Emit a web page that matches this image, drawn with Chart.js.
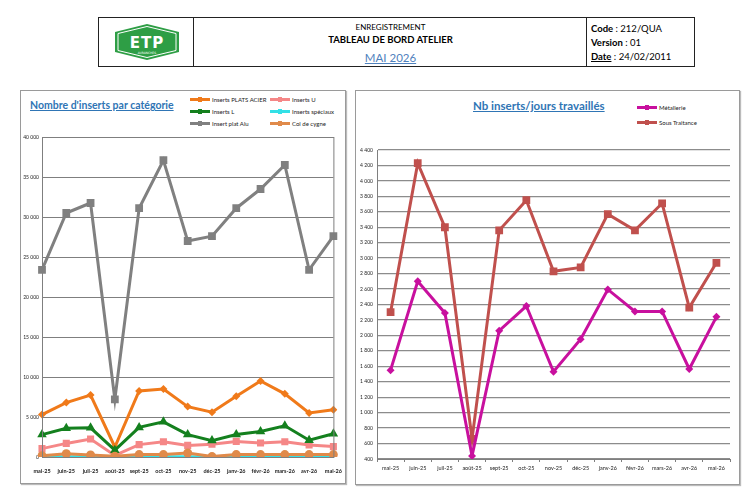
<!DOCTYPE html>
<html lang="fr">
<head>
<meta charset="utf-8">
<script src="https://cdn.jsdelivr.net/npm/chart.js@4.4.1/dist/chart.umd.min.js"></script>
<style>
  body { margin: 0; width: 750px; height: 504px; background: #fff; font-family: Lato, 'Liberation Sans', sans-serif; position: relative; overflow: hidden; }
  .abs { position: absolute; }
  .hdr { left: 98px; top: 17px; width: 597px; height: 50px; border: 1px solid #222; box-sizing: border-box; }
  .cell { position: absolute; top: 0; bottom: 0; border-left: 1px solid #222; }
  .panel { border: 1px solid #9a9a9a; box-shadow: 1px 1px 1px #bbb; box-sizing: border-box; }
  .title { color: #2f75b5; font-weight: bold; text-decoration: underline; white-space: nowrap; }
  .leg { font-size: 6px; color: #222; white-space: nowrap; display: flex; align-items: center; }
  .leg i { display: inline-block; width: 20px; height: 3px; margin-right: 2px; position: relative; }
  .leg i b { position: absolute; left: 8px; top: -1px; width: 4px; height: 5px; }
</style>
</head>
<body>

<!-- header -->
<div class="abs hdr">
  <svg class="abs" style="left:14px;top:5px" width="68" height="38" viewBox="0 0 68 38">
    <polygon points="2,9 34,1 66,9 66,29 34,37 2,29" fill="#2e9e45"/>
    <polygon points="5,10.5 34,3.5 63,10.5 63,27.5 34,34.5 5,27.5" fill="none" stroke="#fff" stroke-width="1"/>
    <text x="34" y="25" text-anchor="middle" fill="#fff" font-family="'DejaVu Sans'" font-weight="bold" font-size="15" letter-spacing="1">ETP</text>
    <text x="34" y="31" text-anchor="middle" fill="#fff" font-family="'DejaVu Sans'" font-size="3">AVRANCHES</text>
  </svg>
  <div class="cell" style="left:94px;width:393px;">
    <div class="abs" style="left:0;right:0;top:4px;text-align:center;font-size:8px;">ENREGISTREMENT</div>
    <div class="abs" style="left:0;right:0;top:16px;text-align:center;font-size:9.5px;font-weight:bold;">TABLEAU DE BORD ATELIER</div>
    <div class="abs" style="left:0;right:0;top:33px;text-align:center;font-size:11.5px;color:#4f81bd;text-decoration:underline;">MAI 2026</div>
  </div>
  <div class="cell" style="left:487px;right:0;font-size:9.5px;">
    <div class="abs" style="left:4px;top:5px;"><b>Code</b> : 212/QUA</div>
    <div class="abs" style="left:4px;top:19px;"><b>Version</b> : 01</div>
    <div class="abs" style="left:4px;top:33px;"><b><u>Date</u></b> : 24/02/2011</div>
  </div>
</div>

<!-- left panel -->
<div class="abs panel" style="left:20px;top:90px;width:326px;height:394px;"></div>
<div class="abs title" style="left:30px;top:99px;font-size:10.5px;">Nombre d'inserts par catégorie</div>
<div id="legLeft"></div>
<div class="abs" style="left:20px;top:130px;width:325px;height:352px;"><canvas id="chartLeft"></canvas></div>

<!-- right panel -->
<div class="abs panel" style="left:355px;top:90px;width:385px;height:395px;"></div>
<div class="abs title" style="left:473px;top:99px;font-size:11.5px;">Nb inserts/jours travaillés</div>
<div id="legRight"></div>
<div class="abs" style="left:355px;top:140px;width:383px;height:344px;"><canvas id="chartRight"></canvas></div>

<script>
// months shared by both charts
const months = ['mai-25', 'juin-25', 'juil-25', 'août-25', 'sept-25', 'oct-25', 'nov-25', 'déc-25', 'janv-26', 'févr-26', 'mars-26', 'avr-26', 'mai-26'];

// Nombre d'inserts par catégorie
const platsAcier = [5300, 6800, 7750, 1250, 8250, 8500, 6300, 5600, 7600, 9500, 7900, 5500, 5900];
const insertsU = [1050, 1700, 2250, 200, 1550, 1900, 1450, 1600, 1950, 1750, 1900, 1500, 1300];
const insertsL = [2800, 3600, 3650, 850, 3700, 4400, 2800, 2050, 2800, 3200, 3900, 2100, 2900];
const insertsSpeciaux = [30, 20, 20, 10, 20, 30, 20, 10, 20, 10, 20, 20, 10];
const platAlu = [23400, 30500, 31750, 7200, 31100, 37100, 27000, 27600, 31100, 33500, 36500, 23400, 27600];
const colCygne = [150, 400, 250, 100, 300, 300, 500, 50, 300, 300, 300, 300, 300];

// Nb inserts/jours travaillés
const metallerie = [1550, 2700, 2290, 440, 2060, 2380, 1530, 1950, 2595, 2310, 2310, 1565, 2240];
const sousTraitance = [2300, 4230, 3400, 660, 3360, 3750, 2830, 2880, 3570, 3360, 3710, 2360, 2940];

Chart.defaults.font.family = "Lato, 'Liberation Sans', sans-serif";
Chart.defaults.color = '#222';
Chart.defaults.animation = false;

const fmt = v => String(v).replace(/\B(?=(\d{3})+(?!\d))/g, ' ');

// frame around the plot area
const frame = {
  id: 'frame',
  afterDraw(chart, args, opts) {
    if (!opts.on) return;
    const a = chart.chartArea, c = chart.ctx;
    c.save();
    c.strokeStyle = '#7f7f7f';
    c.lineWidth = 1;
    c.strokeRect(a.left + 0.5, a.top + 0.5, a.right - a.left, a.bottom - a.top);
    c.restore();
  }
};

function line(label, data, color, style, radius, order) {
  return {
    label, data, order,
    borderColor: color,
    backgroundColor: color,
    borderWidth: 3,
    pointStyle: style,
    pointRadius: radius,
    pointBorderWidth: 0,
    tension: 0
  };
}

const leftSeries = [
  line('Inserts PLATS ACIER', platsAcier, '#f07a1a', 'rectRot', 4, 5),
  line('Inserts U', insertsU, '#f58787', 'rect', 5, 4),
  line('Inserts L', insertsL, '#14801e', 'triangle', 5.5, 3),
  line('Inserts spéciaux', insertsSpeciaux, '#33e0e6', 'rect', 4.5, 2),
  line('Insert plat Alu', platAlu, '#808080', 'rect', 5.5, 1),
  line('Col de cygne', colCygne, '#e08a4a', 'circle', 4.5, 0)
];

new Chart(document.getElementById('chartLeft'), {
  type: 'line',
  data: { labels: months, datasets: leftSeries },
  plugins: [frame],
  options: {
    responsive: true,
    maintainAspectRatio: false,
    layout: { padding: { top: 7, right: 11, left: 0, bottom: 0 } },
    plugins: { legend: { display: false }, tooltip: { enabled: false }, frame: { on: true } },
    scales: {
      x: {
        offset: false,
        grid: { display: false },
        border: { color: '#7f7f7f' },
        ticks: { font: { size: 5.5, weight: 'bold' }, maxRotation: 0, autoSkip: false, padding: 3 },
        afterFit(s) { s.height = 25; }
      },
      y: {
        min: 0, max: 40000,
        grid: { color: '#7f7f7f', drawTicks: false },
        border: { color: '#7f7f7f' },
        ticks: { stepSize: 5000, font: { size: 5 }, padding: 3, callback: fmt },
        afterFit(s) { s.width = 22; }
      }
    }
  }
});

const rightSeries = [
  line('Métallerie', metallerie, '#c8109e', 'rectRot', 4, 0),
  line('Sous Traitance', sousTraitance, '#c0504d', 'rect', 5.5, 1)
];

new Chart(document.getElementById('chartRight'), {
  type: 'line',
  data: { labels: months, datasets: rightSeries },
  options: {
    responsive: true,
    maintainAspectRatio: false,
    layout: { padding: { top: 10, right: 8, left: 0, bottom: 0 } },
    plugins: { legend: { display: false }, tooltip: { enabled: false } },
    scales: {
      x: {
        offset: true,
        grid: { offset: true, drawOnChartArea: false, drawTicks: true, tickLength: 3, color: '#7f7f7f' },
        border: { color: '#7f7f7f' },
        ticks: { font: { size: 5.5 }, maxRotation: 0, autoSkip: false, padding: 3 },
        afterFit(s) { s.height = 25; }
      },
      y: {
        min: 400, max: 4400,
        grid: { color: '#8c8c8c', lineWidth: 1.3, drawTicks: false },
        border: { color: '#7f7f7f' },
        ticks: { stepSize: 200, font: { size: 5 }, padding: 4, callback: fmt },
        afterFit(s) { s.width = 22; }
      }
    }
  }
});

// legends as plain html, laid out like the spreadsheet
function legend(host, items) {
  const el = document.getElementById(host);
  items.forEach(it => {
    const d = document.createElement('div');
    d.className = 'abs leg';
    d.style.left = it.x + 'px';
    d.style.top = (it.y - 4) + 'px';
    d.innerHTML = '<i style="background:' + it.ds.borderColor + '"><b style="background:' + it.ds.borderColor + '"></b></i>' + it.ds.label;
    el.appendChild(d);
  });
}
legend('legLeft', [
  { ds: leftSeries[0], x: 190, y: 100 }, { ds: leftSeries[1], x: 270, y: 100 },
  { ds: leftSeries[2], x: 190, y: 112 }, { ds: leftSeries[3], x: 270, y: 112 },
  { ds: leftSeries[4], x: 190, y: 124 }, { ds: leftSeries[5], x: 270, y: 124 }
]);
legend('legRight', [
  { ds: rightSeries[0], x: 637, y: 108 },
  { ds: rightSeries[1], x: 637, y: 123 }
]);
</script>
</body>
</html>
